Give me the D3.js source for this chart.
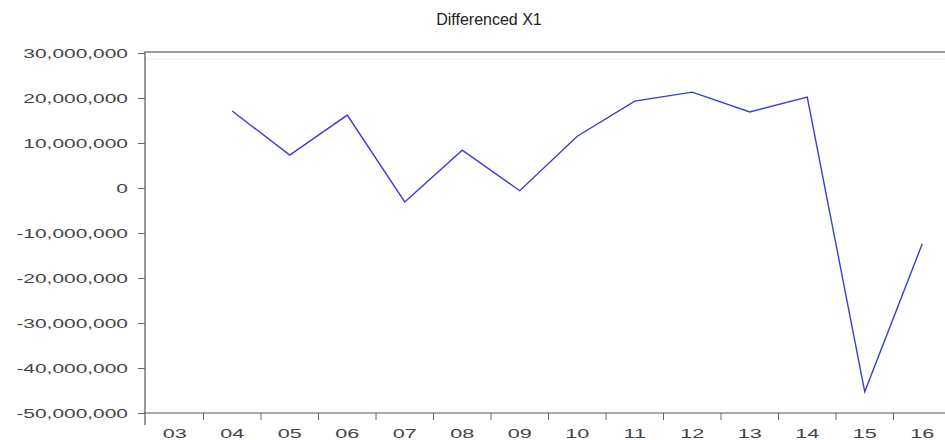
<!DOCTYPE html>
<html>
<head>
<meta charset="utf-8">
<script src="https://cdn.jsdelivr.net/npm/d3@7"></script>
<style>
  body { margin: 0; background: #fff; }
  svg { display: block; font-family: "Liberation Sans", Arial, sans-serif; }
</style>
</head>
<body>
<div id="chart"></div>
<script>
// annual differences of X1, years 03..16 (03 has no value)
const years = ['03', '04', '05', '06', '07', '08', '09', '10', '11', '12', '13', '14', '15', '16'];
const diffX1 = [null, 17.1, 7.3, 16.2, -3.1, 8.4, -0.6, 11.5, 19.3, 21.3, 16.9, 20.2, -45.3, -12.4].map(v => v === null ? null : v * 1e6);
const yTicks = [-50e6, -40e6, -30e6, -20e6, -10e6, 0, 10e6, 20e6, 30e6];

const width = 945, height = 440;
const plotLeft = 146, plotTop = 53, plotBottom = 413;

const svg = d3.select('#chart').append('svg')
    .attr('width', width)
    .attr('height', height);

const x = d3.scaleBand().domain(years).range([plotLeft, plotLeft + years.length * 57.5]);
const y = d3.scaleLinear().domain([-50e6, 30e6]).range([plotBottom, plotTop]);

// frame
svg.append('line')
    .attr('x1', plotLeft - 1).attr('x2', width)
    .attr('y1', plotTop - 1).attr('y2', plotTop - 1)
    .attr('stroke', '#9a9a9a').attr('stroke-width', 2);
svg.append('line')
    .attr('x1', plotLeft).attr('x2', width)
    .attr('y1', plotTop + 6).attr('y2', plotTop + 6)
    .attr('stroke', '#eeeeee').attr('stroke-width', 1);

const fmt = d => d3.format(',')(d).replace('\u2212', '-');

const yAxis = svg.append('g')
    .attr('transform', `translate(${plotLeft - 1},0)`)
    .call(d3.axisLeft(y).tickValues(yTicks).tickSize(7).tickFormat(fmt));
yAxis.select('.domain')
    .attr('d', `M0,${plotTop - 2}V${plotBottom + 12}`)
    .attr('stroke', '#999').attr('stroke-width', 2);
yAxis.selectAll('.tick line').attr('stroke', '#666');
yAxis.selectAll('.tick text')
    .attr('x', 0)
    .attr('transform', 'translate(-17,0) scale(1.55,1)')
    .attr('fill', '#444')
    .style('font-size', '13.5px')
    .style('font-family', '"Liberation Sans", Arial, sans-serif');

const xAxis = svg.append('g')
    .attr('transform', `translate(0,${plotBottom})`)
    .call(d3.axisBottom(x).tickSize(0).tickPadding(15));
xAxis.select('.domain')
    .attr('d', `M${plotLeft - 2},0H${width}`)
    .attr('stroke', '#555').attr('stroke-width', 1);
xAxis.selectAll('.tick text')
    .attr('transform', 'scale(1.6,1)')
    .attr('fill', '#444')
    .style('font-size', '13.5px')
    .style('font-family', '"Liberation Sans", Arial, sans-serif');

// tick marks between the year labels
xAxis.selectAll('.band-tick')
    .data(years.slice(1))
    .enter().append('line')
    .attr('class', 'band-tick')
    .attr('x1', d => x(d)).attr('x2', d => x(d))
    .attr('y1', 0).attr('y2', 7)
    .attr('stroke', '#666');

// series
const line = d3.line()
    .defined(d => d.v !== null)
    .x(d => x(d.year) + x.bandwidth() / 2)
    .y(d => y(d.v));

svg.append('path')
    .datum(years.map((year, i) => ({ year, v: diffX1[i] })))
    .attr('fill', 'none')
    .attr('stroke', '#3b3bd6')
    .attr('stroke-width', 1.4)
    .attr('stroke-linejoin', 'miter')
    .attr('d', line);

// title
svg.append('text')
    .attr('x', 489).attr('y', 25)
    .attr('text-anchor', 'middle')
    .attr('fill', '#222')
    .style('font-size', '16px')
    .text('Differenced X1');
</script>
</body>
</html>
